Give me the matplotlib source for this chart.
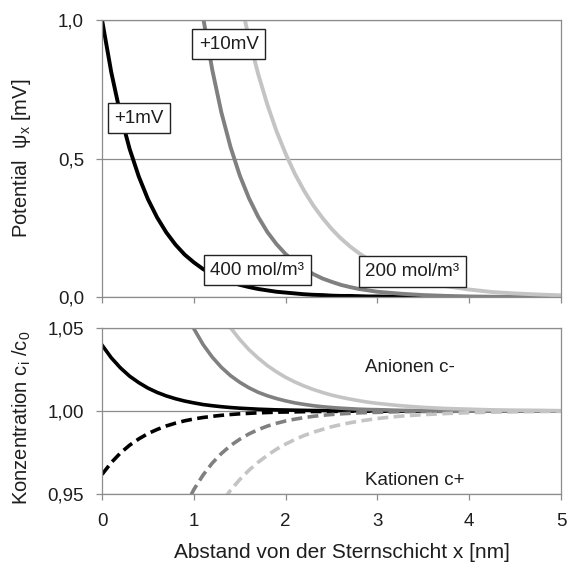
import matplotlib
matplotlib.use("Agg")
import matplotlib.pyplot as plt
from matplotlib.ticker import FixedLocator

plt.rcParams['font.family'] = ['Liberation Sans', 'DejaVu Sans']
plt.rcParams['mathtext.fontset'] = 'custom'
plt.rcParams['mathtext.rm'] = 'Liberation Sans'
plt.rcParams['mathtext.it'] = 'Liberation Sans:italic'

# Abstand x [nm]
x = [0.0, 0.1, 0.2, 0.3, 0.4, 0.5, 0.6, 0.7, 0.8, 0.9,
     1.0, 1.1, 1.2, 1.3, 1.4, 1.5, 1.6, 1.7, 1.8, 1.9,
     2.0, 2.1, 2.2, 2.3, 2.4, 2.5, 2.6, 2.7, 2.8, 2.9,
     3.0, 3.25, 3.5, 3.75, 4.0, 4.25, 4.5, 4.75, 5.0]

# Potential [mV]
psi_1mV_400 = [1.000, 0.812, 0.659, 0.535, 0.435, 0.353, 0.287, 0.233, 0.189, 0.153,
               0.125, 0.101, 0.082, 0.067, 0.054, 0.044, 0.036, 0.029, 0.024, 0.019,
               0.016, 0.013, 0.010, 0.008, 0.007, 0.005, 0.004, 0.004, 0.003, 0.002,
               0.002, 0.001, 0.001, 0.000, 0.000, 0.000, 0.000, 0.000, 0.000]
psi_10mV_400 = [10.0, 8.119, 6.593, 5.353, 4.346, 3.529, 2.865, 2.326, 1.889, 1.534,
                1.245, 1.011, 0.821, 0.666, 0.541, 0.439, 0.357, 0.290, 0.235, 0.191,
                0.155, 0.126, 0.102, 0.083, 0.067, 0.055, 0.044, 0.036, 0.029, 0.024,
                0.019, 0.012, 0.007, 0.004, 0.002, 0.001, 0.001, 0.001, 0.000]
psi_10mV_200 = [10.0, 8.623, 7.436, 6.412, 5.529, 4.768, 4.111, 3.545, 3.057, 2.636,
                2.273, 1.960, 1.690, 1.457, 1.257, 1.084, 0.934, 0.806, 0.695, 0.599,
                0.517, 0.445, 0.384, 0.331, 0.286, 0.246, 0.212, 0.183, 0.158, 0.136,
                0.117, 0.081, 0.056, 0.039, 0.027, 0.018, 0.013, 0.009, 0.006]

# Konzentration c/c0 (Anionen / Kationen)
an_1mV_400 = [1.0397, 1.0321, 1.0260, 1.0210, 1.0171, 1.0138, 1.0112, 1.0091, 1.0074, 1.0060,
              1.0049, 1.0039, 1.0032, 1.0026, 1.0021, 1.0017, 1.0014, 1.0011, 1.0009, 1.0007,
              1.0006, 1.0005, 1.0004, 1.0003, 1.0003, 1.0002, 1.0002, 1.0001, 1.0001, 1.0001,
              1.0001, 1.0, 1.0, 1.0, 1.0, 1.0, 1.0, 1.0, 1.0]
ka_1mV_400 = [0.9618, 0.9689, 0.9747, 0.9794, 0.9832, 0.9864, 0.9889, 0.9910, 0.9927, 0.9941,
              0.9952, 0.9961, 0.9968, 0.9974, 0.9979, 0.9983, 0.9986, 0.9989, 0.9991, 0.9993,
              0.9994, 0.9995, 0.9996, 0.9997, 0.9997, 0.9998, 0.9998, 0.9999, 0.9999, 0.9999,
              0.9999, 1.0, 1.0, 1.0, 1.0, 1.0, 1.0, 1.0, 1.0]
an_10mV_400 = [1.4757, 1.3716, 1.2924, 1.2316, 1.1842, 1.1472, 1.1180, 1.0947, 1.0763, 1.0615,
               1.0496, 1.0401, 1.0325, 1.0263, 1.0213, 1.0173, 1.0140, 1.0113, 1.0092, 1.0075,
               1.0061, 1.0049, 1.0040, 1.0032, 1.0026, 1.0021, 1.0017, 1.0014, 1.0011, 1.0009,
               1.0008, 1.0004, 1.0003, 1.0002, 1.0001, 1.0, 1.0, 1.0, 1.0]
ka_10mV_400 = [0.6777, 0.7291, 0.7738, 0.8120, 0.8444, 0.8717, 0.8945, 0.9135, 0.9291, 0.9421,
               0.9527, 0.9614, 0.9686, 0.9744, 0.9792, 0.9830, 0.9862, 0.9888, 0.9909, 0.9926,
               0.9940, 0.9951, 0.9960, 0.9968, 0.9974, 0.9979, 0.9983, 0.9986, 0.9989, 0.9991,
               0.9992, 0.9996, 0.9997, 0.9998, 0.9999, 1.0, 1.0, 1.0, 1.0]
an_10mV_200 = [1.4757, 1.3987, 1.3356, 1.2834, 1.2400, 1.2039, 1.1735, 1.1479, 1.1263, 1.1080,
               1.0925, 1.0792, 1.0680, 1.0583, 1.0501, 1.0431, 1.0370, 1.0319, 1.0274, 1.0236,
               1.0203, 1.0175, 1.0151, 1.0130, 1.0112, 1.0096, 1.0083, 1.0072, 1.0062, 1.0053,
               1.0046, 1.0032, 1.0022, 1.0015, 1.0011, 1.0007, 1.0005, 1.0004, 1.0002]
ka_10mV_200 = [0.6777, 0.7150, 0.7488, 0.7792, 0.8064, 0.8307, 0.8522, 0.8712, 0.8879, 0.9025,
               0.9154, 0.9266, 0.9364, 0.9449, 0.9523, 0.9587, 0.9643, 0.9691, 0.9733, 0.9770,
               0.9801, 0.9828, 0.9852, 0.9872, 0.9889, 0.9905, 0.9918, 0.9929, 0.9939, 0.9947,
               0.9955, 0.9969, 0.9978, 0.9985, 0.9990, 0.9993, 0.9995, 0.9997, 0.9998]

top_ticks = [0.0, 0.5, 1.0]
top_ticklabels = ['0,0', '0,5', '1,0']
bot_ticks = [0.95, 1.00, 1.05]
bot_ticklabels = ['0,95', '1,00', '1,05']
x_ticks = [0, 1, 2, 3, 4, 5]

c_black = '#000000'
c_dark = '#808080'
c_light = '#c4c4c4'
c_axis = '#8c8c8c'
c_text = '#1e1e1e'

fig = plt.figure(figsize=(5.67, 5.69), dpi=100)
ax1 = fig.add_axes([0.180, 0.478, 0.8095, 0.4868])
ax2 = fig.add_axes([0.180, 0.1318, 0.8095, 0.2917])


def style(ax, yticks, ylabels):
    ax.set_xlim(0, 5)
    ax.set_ylim(yticks[0], yticks[-1])
    ax.yaxis.set_major_locator(FixedLocator(yticks))
    ax.set_yticklabels(ylabels)
    ax.xaxis.set_major_locator(FixedLocator(x_ticks))
    ax.grid(axis='y', color=c_axis, lw=0.9)
    ax.set_axisbelow(True)
    for s in ax.spines.values():
        s.set_color(c_axis)
        s.set_linewidth(0.9)
    ax.tick_params(direction='out', length=4, width=0.9, color=c_axis,
                   labelsize=13.5, labelcolor=c_text)
    ax.tick_params(axis='y', pad=9)
    ax.tick_params(axis='x', pad=10)


style(ax1, top_ticks, top_ticklabels)
style(ax2, bot_ticks, bot_ticklabels)
ax1.tick_params(labelbottom=False)

lw = 2.8
ax1.plot(x, psi_1mV_400, color=c_black, lw=lw)
ax1.plot(x, psi_10mV_400, color=c_dark, lw=lw)
ax1.plot(x, psi_10mV_200, color=c_light, lw=lw)

box = dict(boxstyle='square,pad=0.35', fc='white', ec='#222222', lw=1.0)
fs_box = 13.5
ax1.text(0.40, 0.646, '+1mV', fontsize=fs_box, ha='center', va='center', bbox=box, color=c_text)
ax1.text(1.38, 0.913, '+10mV', fontsize=fs_box, ha='center', va='center', bbox=box, color=c_text)
ax1.text(1.69, 0.096, '400 mol/m³', fontsize=fs_box, ha='center', va='center', bbox=box, color=c_text)
ax1.text(3.38, 0.092, '200 mol/m³', fontsize=fs_box, ha='center', va='center', bbox=box, color=c_text)

dash = (3.0, 1.5)
lw2 = 2.6
ax2.plot(x, an_1mV_400, color=c_black, lw=lw2)
ax2.plot(x, ka_1mV_400, color=c_black, lw=lw2, dashes=dash)
ax2.plot(x, an_10mV_400, color=c_dark, lw=lw2)
ax2.plot(x, ka_10mV_400, color=c_dark, lw=lw2, dashes=dash)
ax2.plot(x, an_10mV_200, color=c_light, lw=lw2)
ax2.plot(x, ka_10mV_200, color=c_light, lw=lw2, dashes=dash)

ax2.text(2.86, 1.026, 'Anionen c-', fontsize=13.5, ha='left', va='center', color=c_text)
ax2.text(2.86, 0.958, 'Kationen c+', fontsize=13.5, ha='left', va='center', color=c_text)

fig.text(22 / 567, 1 - 158 / 569, 'Potential  ψ$_\\mathrm{x}$ [mV]', rotation=90,
         ha='center', va='center', fontsize=14.5, color=c_text)
fig.text(22 / 567, 1 - 418 / 569, 'Konzentration c$_\\mathrm{i}$ /c$_\\mathrm{0}$', rotation=90,
         ha='center', va='center', fontsize=14.5, color=c_text)
fig.text(342 / 567, 1 - 552 / 569, 'Abstand von der Sternschicht x [nm]',
         ha='center', va='center', fontsize=15, color=c_text)

fig.savefig('out.png', dpi=100)
